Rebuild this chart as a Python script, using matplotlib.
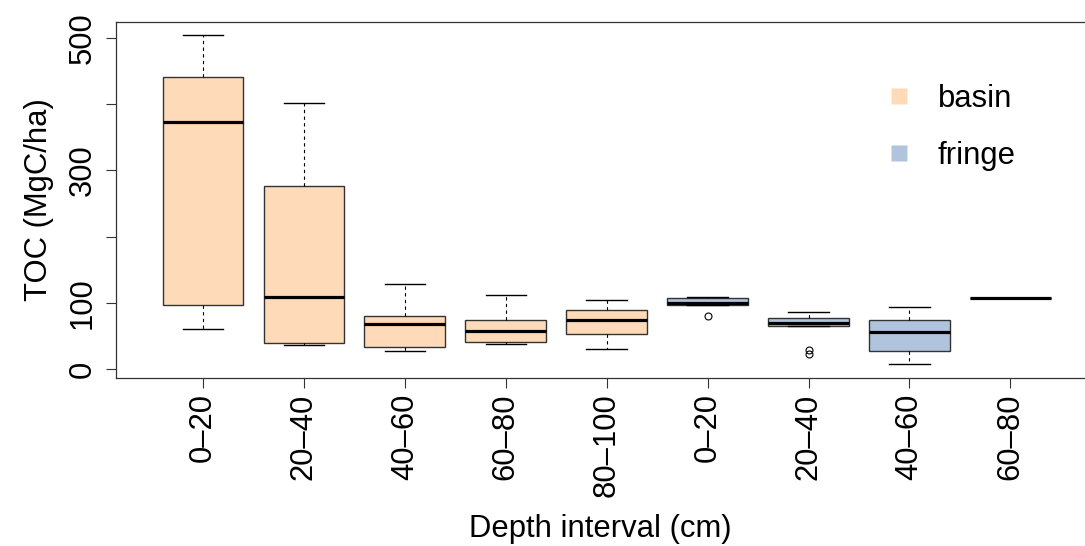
import matplotlib.pyplot as plt
from matplotlib.lines import Line2D

plt.rcParams['font.family'] = ['Liberation Sans', 'DejaVu Sans']

# depth intervals, first five from basin sites, last four from fringe sites
labels = ['0–20', '20–40', '40–60', '60–80', '80–100', '0–20', '20–40', '40–60', '60–80']
site = ['basin'] * 5 + ['fringe'] * 4

# box statistics (MgC/ha)
whislo = [61, 37, 28, 39, 30, 97, 66, 8, 107.5]
q1 = [97, 40, 34, 41, 53, 97, 66, 28, 107.5]
med = [373, 109, 69, 58, 75, 100, 70, 56, 107.5]
q3 = [441, 276, 81, 75, 90, 108, 78, 74, 107.5]
whishi = [504, 402, 129, 112, 104, 109, 86, 94, 107.5]
fliers = [[], [], [], [], [], [81], [29, 23], [], []]

colors = {'basin': '#FFDAB9', 'fringe': '#B0C4DE'}
fs = 22.3

stats = []
for i in range(len(labels)):
    stats.append({'whislo': whislo[i], 'q1': q1[i], 'med': med[i], 'q3': q3[i],
                  'whishi': whishi[i], 'fliers': fliers[i]})

fig = plt.figure(figsize=(10.85, 5.46), dpi=100)
ax = fig.add_axes([116 / 1085, 1 - 378 / 546, 969 / 1085, 356 / 546])

bp = ax.bxp(stats, positions=range(1, len(labels) + 1), widths=0.8, patch_artist=True,
            boxprops=dict(edgecolor='#333333', linewidth=1),
            medianprops=dict(color='black', linewidth=2.3),
            whiskerprops=dict(color='black', linewidth=0.8, linestyle=(0, (3, 3))),
            capprops=dict(color='black', linewidth=1),
            flierprops=dict(marker='o', markerfacecolor='none', markeredgecolor='black',
                            markersize=5, markeredgewidth=0.8),
            capwidths=0.4)
for patch, s in zip(bp['boxes'], site):
    patch.set_facecolor(colors[s])

ax.set_xlim(0.1375, 9.74)
ax.set_ylim(-13, 524)

ax.set_xticks(range(1, len(labels) + 1))
ax.set_xticklabels(labels, rotation=90, fontsize=fs, va='top', ha='center')
ax.set_yticks([0, 100, 200, 300, 400, 500])
ax.set_yticklabels(['0', '100', '', '300', '', '500'], rotation=90, fontsize=fs,
                   va='center', ha='right')
ax.tick_params(axis='both', length=7, width=0.8, color='#333333')
ax.tick_params(axis='x', pad=4)
ax.tick_params(axis='y', pad=6)

ax.spines['right'].set_visible(False)
for sp in ['left', 'top', 'bottom']:
    ax.spines[sp].set_color('#333333')
    ax.spines[sp].set_linewidth(0.9)

ax.set_xlabel('Depth interval (cm)', fontsize=fs, labelpad=12)
ax.set_ylabel('TOC (MgC/ha)', fontsize=fs, labelpad=10)

handles = [Line2D([], [], linestyle='none', marker='s', markersize=11,
                  markerfacecolor=colors[k], markeredgecolor='none') for k in ['basin', 'fringe']]
ax.legend(handles, ['basin', 'fringe'], loc='upper left', bbox_to_anchor=(0.792, 0.825),
          frameon=False, fontsize=fs, handlelength=1, handletextpad=0.75,
          labelspacing=0.85, borderaxespad=0, borderpad=0)

fig.savefig('out.png', dpi=100)
